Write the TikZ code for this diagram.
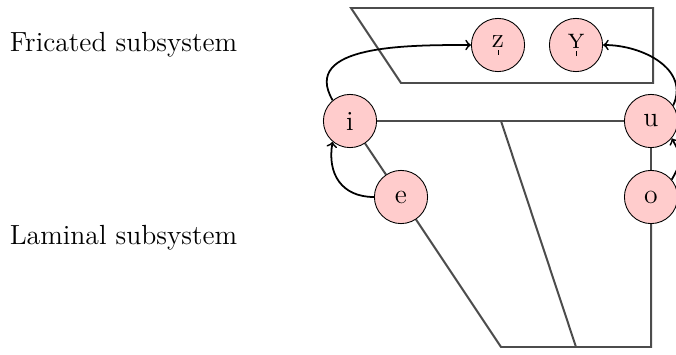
\documentclass[tikz,border=0pt]{standalone}
\usetikzlibrary{arrows,backgrounds}
% syllabic mark: short vertical stroke under a letter
\newcommand\sylmark[1]{\oalign{#1\crcr\hidewidth\vrule height 2.2pt depth 0pt width .35pt\hidewidth}}
\begin{document}
\begin{tikzpicture}[x=0.455pt,y=-0.455pt,
  vowel/.style={circle,draw=black,fill=red!20,minimum size=24.2pt,inner sep=0pt,font=\fontsize{12.6}{15}\selectfont},
  label text/.style={anchor=west,font=\fontsize{12.6}{15}\selectfont},
  edge/.style={draw=black!70,line width=0.9pt},
  link/.style={->,thick,black}]
\useasboundingbox (0,0) rectangle (676,354);

% subsystem labels
\node[label text] (fric) at (2,45) {Fricated subsystem};
\node[label text] (lam) at (2,238) {Laminal subsystem};

% vowel nodes
\node[vowel] (z) at (498,45) {\sylmark{z}};
\node[vowel] (y) at (576,45) {\sylmark{\textsc{y}}};
\node[vowel] (i) at (350,121) {i};
\node[vowel] (u) at (651,121) {u};
\node[vowel] (e) at (401,197) {e};
\node[vowel] (o) at (651,197) {o};

% corners of the quadrilaterals
\coordinate (pa) at (351,8);
\coordinate (pb) at (653,8);
\coordinate (pc) at (653,83);
\coordinate (pd) at (401,83);
\coordinate (mid) at (501,121);
\coordinate (bl) at (501,347);
\coordinate (bm) at (576,347);
\coordinate (br) at (651,347);

\begin{pgfonlayer}{background}
\draw[edge] (pa) -- (pb) -- (pc) -- (pd) -- cycle;
\draw[edge] (i) -- (u);
\draw[edge] (i) -- (e);
\draw[edge] (e) -- (bl) -- (br) -- (o);
\draw[edge] (u) -- (o);
\draw[edge] (mid) -- (bm);
\end{pgfonlayer}

% shift arrows
\draw[link] (i.130) to[out=120,in=180,looseness=1.1] (z.west);
\draw[link] (u.35) to[out=65,in=0,looseness=1.1] (y.east);
\draw[link] (e.west) to[out=180,in=260,looseness=1.2] (i.230);
\draw[link] (o.40) to[out=60,in=-60,looseness=1.3] (u.-40);
\end{tikzpicture}
\end{document}
